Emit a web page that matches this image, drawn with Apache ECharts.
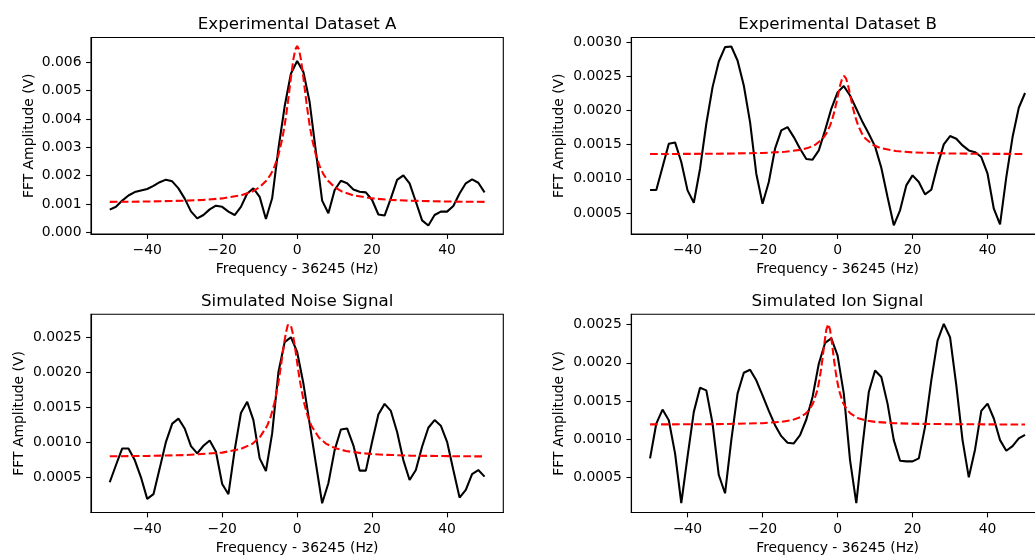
<!DOCTYPE html>
<html>
<head>
<meta charset="utf-8">
<script src="https://cdn.jsdelivr.net/npm/echarts@6/dist/echarts.min.js"></script>
<style>
  html, body { margin: 0; padding: 0; background: #fff; overflow: hidden; }
  #chart { width: 1050px; height: 556px; }
</style>
</head>
<body>
<div id="chart"></div>
<script>
// frequency grid of the measured spectra (Hz offset from 36245)
const freq = [-50, -48.33, -46.67, -45, -43.33, -41.67, -40, -38.33, -36.67, -35, -33.33, -31.67, -30, -28.33, -26.67, -25,
  -23.33, -21.67, -20, -18.33, -16.67, -15, -13.33, -11.67, -10, -8.33, -6.67, -5, -3.33, -1.67, 0, 1.67, 3.33, 5, 6.67,
  8.33, 10, 11.67, 13.33, 15, 16.67, 18.33, 20, 21.67, 23.33, 25, 26.67, 28.33, 30, 31.67, 33.33, 35, 36.67, 38.33, 40,
  41.67, 43.33, 45, 46.67, 48.33, 50];

const ampA = [0.00080, 0.00090, 0.00112, 0.00130, 0.00142, 0.00148, 0.00153, 0.00164, 0.00177, 0.00186, 0.00180, 0.00155,
  0.00119, 0.00074, 0.00049, 0.00061, 0.00081, 0.00094, 0.00090, 0.00073, 0.00061, 0.00090, 0.00137, 0.00155, 0.00125,
  0.00047, 0.00120, 0.00295, 0.00445, 0.00560, 0.00605, 0.00566, 0.00460, 0.00285, 0.00112, 0.00067, 0.00149, 0.00182,
  0.00173, 0.00151, 0.00143, 0.00141, 0.00114, 0.00063, 0.00059, 0.00120, 0.00185, 0.00201, 0.00173, 0.00108, 0.00042,
  0.00024, 0.00061, 0.00073, 0.00073, 0.00093, 0.00137, 0.00173, 0.00187, 0.00175, 0.00141];

const ampB = [0.000836, 0.000836, 0.001173, 0.001514, 0.001533, 0.001246, 0.000831, 0.000651, 0.001148, 0.001806, 0.002342,
  0.002717, 0.002927, 0.002937, 0.002732, 0.002366, 0.001830, 0.001075, 0.000636, 0.000953, 0.001441, 0.001709, 0.001757,
  0.001611, 0.001441, 0.001290, 0.001280, 0.001416, 0.001709, 0.002025, 0.002265, 0.002357, 0.002220, 0.002025, 0.001830,
  0.001660, 0.001475, 0.001163, 0.000734, 0.000320, 0.000539, 0.000904, 0.001051, 0.000953, 0.000773, 0.000841, 0.001197,
  0.001504, 0.001626, 0.001587, 0.001489, 0.001416, 0.001390, 0.001319, 0.001075, 0.000563, 0.000334, 0.001026, 0.001611,
  0.002040, 0.002256];

const ampC = [0.000434, 0.000680, 0.000916, 0.000916, 0.000750, 0.000505, 0.000198, 0.000264, 0.000632, 0.001010, 0.001270,
  0.001340, 0.001200, 0.000949, 0.000845, 0.000954, 0.001030, 0.000868, 0.000410, 0.000264, 0.000892, 0.001420, 0.001580,
  0.001320, 0.000774, 0.000595, 0.001130, 0.002000, 0.002430, 0.002500, 0.002290, 0.001840, 0.001270, 0.000700, 0.000135,
  0.000420, 0.000892, 0.001185, 0.001200, 0.000960, 0.000600, 0.000600, 0.001010, 0.001400, 0.001550, 0.001450, 0.001150,
  0.000750, 0.000466, 0.000608, 0.000940, 0.001210, 0.001320, 0.001240, 0.001010, 0.000608, 0.000216, 0.000325, 0.000550,
  0.000608, 0.000514];

const ampD = [0.000748, 0.001204, 0.001387, 0.001248, 0.000813, 0.000161, 0.000770, 0.001357, 0.001674, 0.001639, 0.001204,
  0.000530, 0.000291, 0.000987, 0.001596, 0.001870, 0.001909, 0.001770, 0.001574, 0.001370, 0.001183, 0.001039, 0.000952,
  0.000943, 0.001052, 0.001257, 0.001552, 0.001987, 0.002260, 0.002320, 0.002096, 0.001596, 0.000726, 0.000161, 0.000922,
  0.001617, 0.001900, 0.001813, 0.001465, 0.000987, 0.000717, 0.000709, 0.000709, 0.000748, 0.001161, 0.001770, 0.002291,
  0.002509, 0.002335, 0.001704, 0.000987, 0.000500, 0.000865, 0.001370, 0.001465, 0.001270, 0.000987, 0.000848, 0.000909,
  0.001009, 0.001057];

// fitted curves (red dashed)
const fitFreqA = [-50, -40, -30, -25, -20, -15, -12, -10, -8, -7, -6, -5, -4, -3.5, -3, -2.5, -2, -1.5, -1, -0.5, 0,
  0.5, 1, 1.5, 2, 2.5, 3, 3.5, 4, 5, 6, 7, 8, 10, 12, 15, 20, 25, 30, 40, 50];
const fitA = [0.001074, 0.001087, 0.001116, 0.001145, 0.001197, 0.001305, 0.001439, 0.001593, 0.001854, 0.002055, 0.002334,
  0.002728, 0.003290, 0.003652, 0.004078, 0.004563, 0.005095, 0.005633, 0.006115, 0.006456, 0.006580,
  0.006456, 0.006115, 0.005633, 0.005095, 0.004563, 0.004078, 0.003652, 0.003290, 0.002728, 0.002334, 0.002055, 0.001854,
  0.001593, 0.001439, 0.001305, 0.001197, 0.001145, 0.001116, 0.001087, 0.001074];

const fitFreqB = [-50, -40, -30, -20, -14, -10, -8, -6, -4, -3, -2, -1.25, -0.75, -0.25, 0.25, 0.75, 1.25, 1.75, 2.25,
  2.75, 3.25, 3.75, 4.25, 4.75, 5.5, 6.5, 7.5, 9.5, 11.5, 15.5, 20, 30, 40, 50];
const fitB = [0.001363, 0.001365, 0.001369, 0.001379, 0.001396, 0.001424, 0.001450, 0.001496, 0.001586, 0.001663, 0.001779,
  0.001903, 0.002007, 0.002127, 0.002257, 0.002380, 0.002471, 0.002505, 0.002471, 0.002380, 0.002257, 0.002127, 0.002007,
  0.001903, 0.001779, 0.001663, 0.001586, 0.001496, 0.001450, 0.001407, 0.001387, 0.001371, 0.001366, 0.001364];

const fitFreqC = [-50, -40, -30, -20, -15, -12, -10, -8, -7, -6, -5, -4.5, -4, -3.5, -3, -2.5, -2.1, -1.7, -1.2, -0.7,
  -0.2, 0.3, 0.8, 1.8, 2.8, 3.8, 5.8, 7.8, 10, 13, 17, 23, 30, 40, 50];
const fitC = [0.000804, 0.000809, 0.000821, 0.000856, 0.000909, 0.000980, 0.001071, 0.001238, 0.001377, 0.001576, 0.001856,
  0.002028, 0.002215, 0.002402, 0.002564, 0.002672, 0.002700, 0.002672, 0.002564, 0.002402, 0.002215, 0.002028, 0.001856,
  0.001576, 0.001377, 0.001238, 0.001071, 0.000980, 0.000923, 0.000879, 0.000849, 0.000826, 0.000814, 0.000806, 0.000802];

const fitFreqD = [-50, -40, -30, -20, -15, -12, -10, -8.5, -7.5, -6.5, -5.5, -5, -4.5, -4, -3.5, -3, -2.5, -2, -1.5, -1,
  -0.5, 0, 0.5, 1.5, 2.5, 3.5, 5.5, 7.5, 10, 15, 20, 30, 40, 50];
const fitD = [0.001193, 0.001194, 0.001198, 0.001209, 0.001226, 0.001251, 0.001286, 0.001334, 0.001387, 0.001474, 0.001622,
  0.001734, 0.001880, 0.002061, 0.002262, 0.002434, 0.002505, 0.002434, 0.002262, 0.002061, 0.001880, 0.001734, 0.001622,
  0.001474, 0.001387, 0.001334, 0.001275, 0.001246, 0.001226, 0.001209, 0.001201, 0.001196, 0.001193, 0.001192];

const titles = ['Experimental Dataset A', 'Experimental Dataset B', 'Simulated Noise Signal', 'Simulated Ion Signal'];
const xTicks = [-40, -20, 0, 20, 40];
const yTicksA = [0, 0.001, 0.002, 0.003, 0.004, 0.005, 0.006];
const yTicksB = [0.0005, 0.001, 0.0015, 0.002, 0.0025, 0.003];
const yTicksC = [0.0005, 0.001, 0.0015, 0.002, 0.0025];
const yTicksD = [0.0005, 0.001, 0.0015, 0.002, 0.0025];

const FONT = 'DejaVu Sans';

// plot areas
const panels = [
  { left: 91, top: 37.5, width: 412.3, height: 196.5, ymin: -0.00006, ymax: 0.00688, ticks: yTicksA, dec: 3, gap: 55,
    amp: ampA, fx: fitFreqA, fy: fitA },
  { left: 631.3, top: 37.5, width: 412.5, height: 196.5, ymin: 0.000193, ymax: 0.003068, ticks: yTicksB, dec: 4, gap: 64.5,
    amp: ampB, fx: fitFreqB, fy: fitB },
  { left: 91, top: 314.3, width: 412.3, height: 199, ymin: 0.0000035, ymax: 0.002826, ticks: yTicksC, dec: 4, gap: 64.5,
    amp: ampC, fx: fitFreqC, fy: fitC },
  { left: 631.3, top: 314.3, width: 412.5, height: 199, ymin: 0.000039, ymax: 0.002635, ticks: yTicksD, dec: 4, gap: 64.5,
    amp: ampD, fx: fitFreqD, fy: fitD }
];

const axisText = { color: '#000', fontFamily: FONT, fontSize: 13.9 };
const fmtMinus = v => (v < 0 ? '\u2212' + Math.abs(v) : String(v));

const chart = echarts.init(document.getElementById('chart'), null, { renderer: 'canvas' });

chart.setOption({
  animation: false,
  backgroundColor: '#fff',
  graphic: panels.map((p, i) => ({
    type: 'text',
    x: p.left + p.width / 2,
    y: p.top - 12.5,
    style: { text: titles[i], fill: '#000', font: '16.7px "DejaVu Sans"', align: 'center', verticalAlign: 'middle' }
  })),
  grid: panels.map(p => ({
    left: p.left, top: p.top, width: p.width, height: p.height,
    show: true, borderColor: '#000', borderWidth: 1.1, backgroundColor: '#fff'
  })),
  xAxis: panels.map((p, i) => ({
    type: 'value', gridIndex: i, min: -55, max: 55,
    name: 'Frequency - 36245 (Hz)', nameLocation: 'middle', nameGap: 28.5,
    nameTextStyle: axisText,
    axisLine: { show: true, onZero: false, lineStyle: { color: '#000', width: 1.1 } },
    axisTick: { show: true, length: 4.9, lineStyle: { color: '#000', width: 1.1 }, customValues: xTicks },
    axisLabel: { ...axisText, margin: 9.5, customValues: xTicks, formatter: fmtMinus },
    splitLine: { show: false }
  })),
  yAxis: panels.map((p, i) => ({
    type: 'value', gridIndex: i, min: p.ymin, max: p.ymax,
    name: 'FFT Amplitude (V)', nameLocation: 'middle', nameGap: p.gap,
    nameTextStyle: axisText,
    axisLine: { show: true, onZero: false, lineStyle: { color: '#000', width: 1.1 } },
    axisTick: { show: true, length: 4.9, lineStyle: { color: '#000', width: 1.1 }, customValues: p.ticks },
    axisLabel: { ...axisText, margin: 9.5, customValues: p.ticks, formatter: v => v.toFixed(p.dec) },
    splitLine: { show: false }
  })),
  series: panels.flatMap((p, i) => [
    {
      type: 'line', xAxisIndex: i, yAxisIndex: i,
      data: freq.map((f, k) => [f, p.amp[k]]),
      symbol: 'none', smooth: false,
      lineStyle: { color: '#000', width: 2.08 }
    },
    {
      type: 'line', xAxisIndex: i, yAxisIndex: i,
      data: p.fx.map((f, k) => [f, p.fy[k]]),
      symbol: 'none', smooth: false,
      lineStyle: { color: '#ff0000', width: 2.08, type: [7.7, 3.3] }
    }
  ])
});
</script>
</body>
</html>
